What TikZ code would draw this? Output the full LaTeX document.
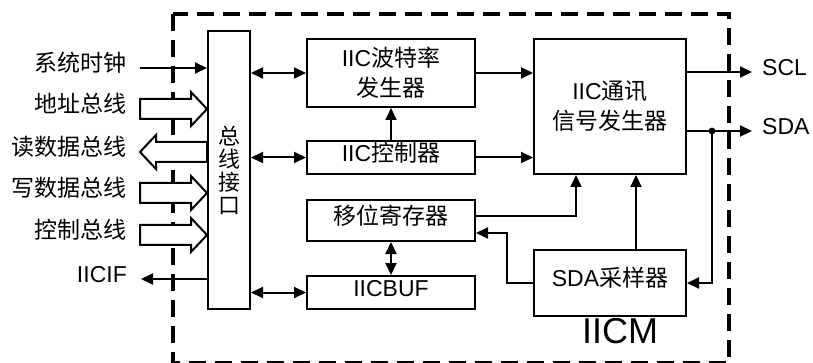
\documentclass[tikz,border=0pt]{standalone}
\usepackage{fontspec}
\setmainfont{Liberation Sans}
\newfontfamily\cjk{Noto Sans CJK SC}
\newcommand{\zh}[1]{{\cjk #1}}
\usetikzlibrary{arrows.meta}

\begin{document}
\begin{tikzpicture}[x=1pt,y=-1pt,
		txt/.style={font=\fontsize{23}{30}\selectfont},
		one/.style={text height=0.8em,text depth=0.05em},
		box/.style={draw,line width=2pt,txt,inner sep=0pt,align=center},
		lbl/.style={txt,one,inner sep=0pt},
		sig/.style={line width=2pt,-{Triangle[length=12pt,width=11pt]}},
		dsig/.style={line width=2pt,{Triangle[length=12pt,width=11pt]}-{Triangle[length=12pt,width=11pt]}},
		hollow/.style={line width=2pt,fill=white,line join=miter},
		frame/.style={line width=3.2pt,dash pattern=on 17pt off 9pt}]
		\useasboundingbox (0,0) rectangle (813,363);

		% Module frame
		\draw[frame] (173,14) rectangle (729,362.5);
		\node[font=\fontsize{36}{36}\selectfont,text height=0.72em,text depth=0pt,inner sep=0pt] (iicm) at (620,340) {IICM};

		% Blocks
		\node[box,font=\cjk\fontsize{22}{23}\selectfont,minimum width=42pt,minimum height=278pt] (bus) at (229,170) {总\\线\\接\\口};
		\node[box,minimum width=168pt,minimum height=68pt] (baud) at (391,73) {IIC\zh{波特率}\\\zh{发生器}};
		\node[box,one,minimum width=168pt,minimum height=33pt] (ctrl) at (391,157.5) {IIC\zh{控制器}};
		\node[box,one,minimum width=168pt,minimum height=41pt] (shift) at (391,220.5) {\zh{移位寄存器}};
		\node[box,one,minimum width=168pt,minimum height=33pt] (buf) at (391,292.5) {IICBUF};
		\node[box,minimum width=152pt,minimum height=135pt] (comm) at (610,106.5) {IIC\zh{通讯}\\\zh{信号发生器}};
		\node[box,one,minimum width=152pt,minimum height=66pt] (samp) at (610,283) {SDA\zh{采样器}};

		% Bus side signals
		\node[lbl,anchor=east] (clk) at (127,68) {\zh{系统时钟}};
		\node[lbl,anchor=east] (addr) at (127,109) {\zh{地址总线}};
		\node[lbl,anchor=east] (rd) at (127,152) {\zh{读数据总线}};
		\node[lbl,anchor=east] (wr) at (127,193) {\zh{写数据总线}};
		\node[lbl,anchor=east] (cbus) at (127,235) {\zh{控制总线}};
		\node[lbl,anchor=east] (iicif) at (127,279) {IICIF};
		\draw[sig,shorten <=13pt] (clk.east) -- (clk.east -| bus.west);
		\draw[hollow] (addr.east -| bus.west) -- ++(-16,-17) -- ++(0,7) -- ++(-51,0) -- ++(0,20) -- ++(51,0) -- ++(0,7) -- cycle;
		\draw[hollow] (rd.east -| bus.west) ++(0,-10) -- ++(-51,0) -- ++(0,-7) -- ++(-16,17) -- ++(16,17) -- ++(0,-7) -- ++(51,0) -- cycle;
		\draw[hollow] (wr.east -| bus.west) -- ++(-16,-17) -- ++(0,7) -- ++(-51,0) -- ++(0,20) -- ++(51,0) -- ++(0,7) -- cycle;
		\draw[hollow] (cbus.east -| bus.west) -- ++(-16,-17) -- ++(0,7) -- ++(-51,0) -- ++(0,20) -- ++(51,0) -- ++(0,7) -- cycle;
		\draw[sig,shorten >=14pt] (iicif.east -| bus.west) -- (iicif.east);

		% Internal connections
		\draw[dsig] (baud.west -| bus.east) -- (baud.west);
		\draw[dsig] (ctrl.west -| bus.east) -- (ctrl.west);
		\draw[dsig] (buf.west -| bus.east) -- (buf.west);
		\draw[sig] (ctrl.north) -- (baud.south);
		\draw[dsig] (shift.south) -- (buf.north);
		\draw[sig] (baud.east) -- (baud.east -| comm.west);
		\draw[sig] (ctrl.east) -- (ctrl.east -| comm.west);
		\draw[sig] ([yshift=4.5pt]shift.east) -| ([xshift=-34pt]comm.south);
		\draw[sig] ([xshift=26pt]samp.north) -- ([xshift=26pt]comm.south);
		\draw[sig] (samp.west) -- ++(-26,0) |- ([yshift=-12.5pt]shift.east);

		% Outputs
		\node[lbl,anchor=west] (scl) at (762,72) {SCL};
		\node[lbl,anchor=west] (sda) at (762,131) {SDA};
		\draw[sig,shorten >=10pt] (scl.west -| comm.east) -- (scl.west);
		\draw[sig,shorten >=10pt] (sda.west -| comm.east) -- (sda.west);
		\path (sda.west -| comm.east) ++(25,0) coordinate (tap);
		\draw[sig] (tap) |- (samp.east);
		\fill (tap) circle (3.4pt);
	\end{tikzpicture}
\end{document}
